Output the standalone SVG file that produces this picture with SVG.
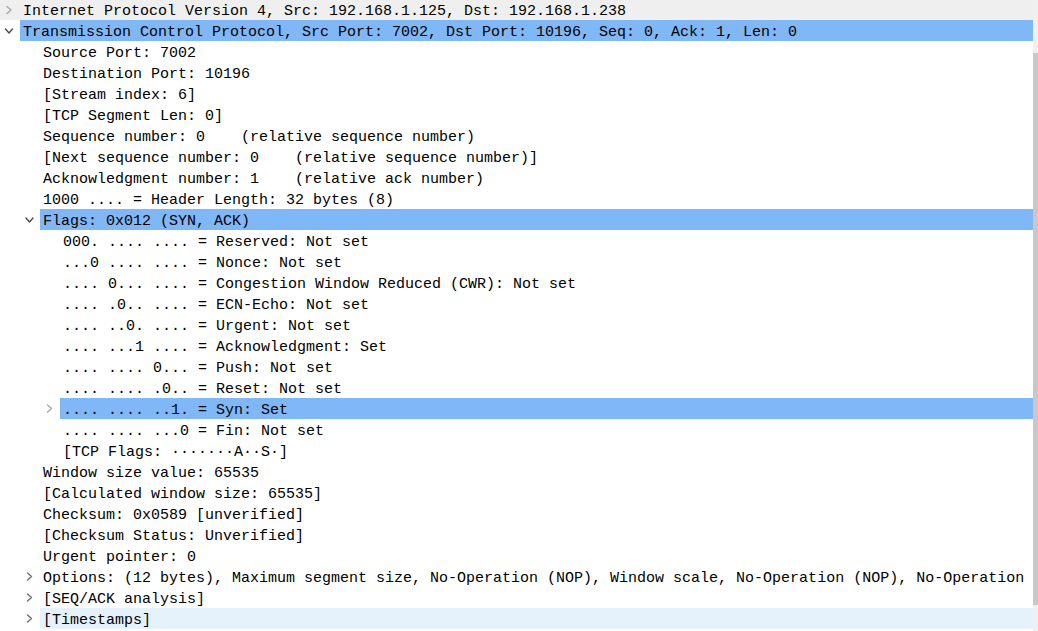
<svg xmlns="http://www.w3.org/2000/svg" width="1038" height="631" viewBox="0 0 1038 631" xml:space="preserve">
<style>
.t{font-family:"Liberation Mono","DejaVu Sans Mono",monospace;font-size:15px;fill:#000;white-space:pre}
.cv{fill:none;stroke:#6e6e6e;stroke-width:1.4;stroke-linecap:round;stroke-linejoin:round}
.cvl{fill:none;stroke:#a8a8a8;stroke-width:1.4;stroke-linecap:round;stroke-linejoin:round}
.cvd{fill:none;stroke:#4a4a4a;stroke-width:1.4;stroke-linecap:round;stroke-linejoin:round}
.sel{fill:#80b7f7}
.hov{fill:#e5f1fb}
</style>
<defs>
<polyline id="right" points="-2,-3.5 2,0 -2,3.5"/>
<polyline id="down" points="-3.5,-2 0,2 3.5,-2"/>
</defs>
<rect x="0" y="0" width="1038" height="631" fill="#ffffff"/>
<g id="row0">
<rect x="0" y="0" width="1033" height="20" fill="#efefef"/>
<use href="#right" x="9" y="10" class="cvl"/>
<text class="t" x="23" y="15">Internet Protocol Version 4, Src: 192.168.1.125, Dst: 192.168.1.238</text>
</g>
<g id="row1">
<rect class="sel" x="20" y="20" width="1013" height="21"/>
<use href="#down" x="9" y="31" class="cvd"/>
<text class="t" x="23" y="36">Transmission Control Protocol, Src Port: 7002, Dst Port: 10196, Seq: 0, Ack: 1, Len: 0</text>
</g>
<g id="row2"><text class="t" x="43" y="57">Source Port: 7002</text></g>
<g id="row3"><text class="t" x="43" y="78">Destination Port: 10196</text></g>
<g id="row4"><text class="t" x="43" y="99">[Stream index: 6]</text></g>
<g id="row5"><text class="t" x="43" y="120">[TCP Segment Len: 0]</text></g>
<g id="row6"><text class="t" x="43" y="141">Sequence number: 0    (relative sequence number)</text></g>
<g id="row7"><text class="t" x="43" y="162">[Next sequence number: 0    (relative sequence number)]</text></g>
<g id="row8"><text class="t" x="43" y="183">Acknowledgment number: 1    (relative ack number)</text></g>
<g id="row9"><text class="t" x="43" y="204">1000 .... = Header Length: 32 bytes (8)</text></g>
<g id="row10">
<rect class="sel" x="40" y="209" width="993" height="21"/>
<use href="#down" x="29.5" y="220" class="cvd"/>
<text class="t" x="43" y="225">Flags: 0x012 (SYN, ACK)</text>
</g>
<g id="row11"><text class="t" x="63" y="246">000. .... .... = Reserved: Not set</text></g>
<g id="row12"><text class="t" x="63" y="267">...0 .... .... = Nonce: Not set</text></g>
<g id="row13"><text class="t" x="63" y="288">.... 0... .... = Congestion Window Reduced (CWR): Not set</text></g>
<g id="row14"><text class="t" x="63" y="309">.... .0.. .... = ECN-Echo: Not set</text></g>
<g id="row15"><text class="t" x="63" y="330">.... ..0. .... = Urgent: Not set</text></g>
<g id="row16"><text class="t" x="63" y="351">.... ...1 .... = Acknowledgment: Set</text></g>
<g id="row17"><text class="t" x="63" y="372">.... .... 0... = Push: Not set</text></g>
<g id="row18"><text class="t" x="63" y="393">.... .... .0.. = Reset: Not set</text></g>
<g id="row19">
<rect class="sel" x="60" y="398" width="973" height="21"/>
<use href="#right" x="49.5" y="408.5" class="cvl"/>
<text class="t" x="63" y="414">.... .... ..1. = Syn: Set</text>
</g>
<g id="row20"><text class="t" x="63" y="435">.... .... ...0 = Fin: Not set</text></g>
<g id="row21"><text class="t" x="63" y="456">[TCP Flags: ·······A··S·]</text></g>
<g id="row22"><text class="t" x="43" y="477">Window size value: 65535</text></g>
<g id="row23"><text class="t" x="43" y="498">[Calculated window size: 65535]</text></g>
<g id="row24"><text class="t" x="43" y="519">Checksum: 0x0589 [unverified]</text></g>
<g id="row25"><text class="t" x="43" y="540">[Checksum Status: Unverified]</text></g>
<g id="row26"><text class="t" x="43" y="561">Urgent pointer: 0</text></g>
<g id="row27">
<use href="#right" x="29.5" y="576.5" class="cv"/>
<text class="t" x="43" y="582">Options: (12 bytes), Maximum segment size, No-Operation (NOP), Window scale, No-Operation (NOP), No-Operation</text>
</g>
<g id="row28">
<use href="#right" x="29.5" y="597.5" class="cv"/>
<text class="t" x="43" y="603">[SEQ/ACK analysis]</text>
</g>
<g id="row29">
<rect class="hov" x="40" y="608" width="993" height="21"/>
<use href="#right" x="29.5" y="618.5" class="cv"/>
<text class="t" x="43" y="624">[Timestamps]</text>
</g>
<g id="scrollbar">
<rect x="1033" y="0" width="5" height="631" fill="#f0f0f0"/>
<rect x="1033" y="53" width="5" height="552" fill="#c8c8c8"/>
</g>
</svg>
